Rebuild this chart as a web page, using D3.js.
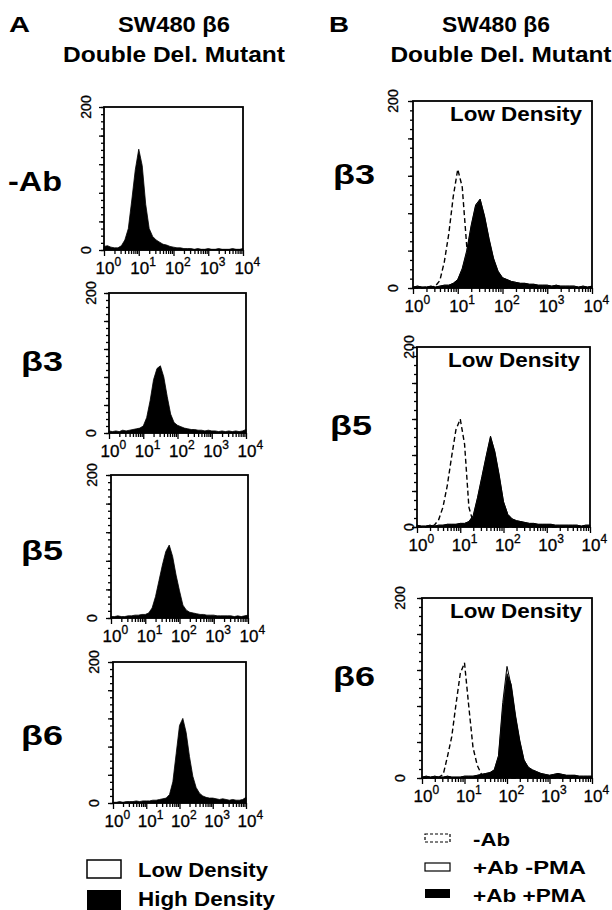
<!DOCTYPE html>
<html lang="en">
<head>
<meta charset="utf-8">
<title>SW480 b6 Double Del. Mutant histograms</title>
<script src="https://cdn.jsdelivr.net/npm/d3@7"></script>
<style>
  body { margin: 0; background: #fff; }
  svg { display: block; }
</style>
</head>
<body>
<script>

// channel positions, log10 of fluorescence (10^0 .. 10^4)
var logBins = [0.0, 0.1, 0.2, 0.3, 0.4, 0.5, 0.6, 0.7, 0.8, 0.9,
               1.0, 1.1, 1.2, 1.3, 1.4, 1.5, 1.6, 1.7, 1.8, 1.9,
               2.0, 2.1, 2.2, 2.3, 2.4, 2.5, 2.6, 2.7, 2.8, 2.9,
               3.0, 3.1, 3.2, 3.3, 3.4, 3.5, 3.6, 3.7, 3.8, 3.9, 4.0];

var decadeExponents = ["0", "1", "2", "3", "4"];
var countLabels = ["0", "200"];

// panel A (high density, filled)
var aNoAb  = [5, 6, 4, 3, 3, 6, 14, 30, 70, 112, 141, 118, 64, 30, 19, 14, 11, 8, 7, 5,
              4, 3, 3, 2, 2, 2, 1, 2, 1, 1, 2, 1, 1, 2, 1, 1, 1, 2, 1, 1, 2];
var aBeta3 = [3, 2, 3, 2, 4, 3, 4, 5, 6, 7, 10, 22, 46, 76, 92, 96, 80, 52, 27, 15,
              11, 9, 7, 6, 5, 5, 4, 4, 3, 4, 3, 3, 2, 3, 2, 3, 2, 3, 2, 3, 5];
var aBeta5 = [2, 2, 3, 2, 2, 3, 3, 4, 4, 5, 5, 7, 14, 30, 52, 74, 93, 102, 86, 60,
              38, 18, 11, 8, 7, 6, 5, 5, 4, 4, 4, 3, 3, 3, 3, 3, 2, 3, 2, 3, 4];
var aBeta6 = [1, 1, 2, 1, 2, 2, 2, 3, 2, 3, 3, 3, 4, 4, 5, 6, 7, 12, 30, 70,
              110, 120, 100, 66, 38, 22, 14, 10, 8, 7, 7, 6, 5, 6, 5, 4, 5, 4, 4, 5, 8];

// panel B (low density): -Ab, +Ab -PMA, +Ab +PMA
var bBeta3NoAb  = [0, 0, 0, 1, 1, 2, 8, 28, 58, 98, 127, 108, 45, 12, 3, 1, 0, 0, 0, 0,
                   0, 0, 0, 0, 0, 0, 0, 0, 0, 0, 0, 0, 0, 0, 0, 0, 0, 0, 0, 0, 0];
var bBeta3NoPma = [1, 2, 1, 1, 2, 1, 2, 3, 3, 5, 9, 21, 40, 67, 89, 95, 76, 52, 31, 18,
                   11, 9, 7, 6, 5, 5, 4, 4, 3, 3, 3, 2, 3, 2, 2, 2, 2, 1, 2, 1, 2];
var bBeta3Pma   = [1, 2, 1, 1, 2, 1, 2, 3, 3, 5, 9, 20, 38, 66, 88, 95, 77, 53, 32, 18,
                   11, 9, 7, 6, 5, 5, 4, 4, 3, 3, 3, 2, 3, 2, 2, 2, 2, 1, 2, 1, 2];

var bBeta5NoAb  = [0, 0, 0, 1, 2, 8, 22, 46, 78, 108, 120, 92, 22, 5, 2, 1, 0, 0, 0, 0,
                   0, 0, 0, 0, 0, 0, 0, 0, 0, 0, 0, 0, 0, 0, 0, 0, 0, 0, 0, 0, 0];
var bBeta5NoPma = [2, 1, 1, 2, 1, 2, 2, 3, 3, 3, 4, 4, 6, 13, 33, 56, 79, 101, 83, 57,
                   28, 14, 9, 7, 6, 5, 4, 4, 3, 3, 3, 3, 2, 2, 2, 2, 2, 2, 1, 2, 2];
var bBeta5Pma   = [2, 1, 1, 2, 1, 2, 2, 3, 3, 3, 4, 4, 6, 12, 32, 55, 78, 100, 84, 58,
                   28, 14, 9, 7, 6, 5, 4, 4, 3, 3, 3, 3, 2, 2, 2, 2, 2, 2, 1, 2, 2];

var bBeta6NoAb  = [0, 0, 0, 0, 1, 4, 24, 46, 82, 116, 128, 80, 34, 14, 4, 1, 0, 0, 0, 0,
                   0, 0, 0, 0, 0, 0, 0, 0, 0, 0, 0, 0, 0, 0, 0, 0, 0, 0, 0, 0, 0];
var bBeta6NoPma = [1, 2, 1, 2, 1, 1, 2, 1, 1, 1, 2, 2, 2, 3, 4, 5, 6, 9, 25, 84,
                   124, 102, 68, 41, 20, 12, 9, 7, 5, 4, 3, 4, 5, 4, 3, 3, 3, 2, 2, 2, 2];
var bBeta6Pma   = [1, 2, 1, 2, 1, 1, 2, 1, 1, 1, 2, 2, 2, 3, 4, 5, 6, 9, 24, 78,
                   116, 104, 70, 42, 20, 12, 9, 7, 5, 4, 3, 4, 5, 4, 3, 3, 3, 2, 2, 2, 2];

var rowLabelsA = ["-Ab", "\u03b23", "\u03b25", "\u03b26"];
var rowLabelsB = ["\u03b23", "\u03b25", "\u03b26"];

var w = 612;
var h = 910;
var font = "'Liberation Sans', Arial, Helvetica, sans-serif";

var svg = d3.select("body")
            .append("svg")
            .attr("width", w)
            .attr("height", h);

svg.append("rect").attr("width", w).attr("height", h).attr("fill", "#fff");

// frame boxes of each small histogram (pixels)
var plots = [
  { x0: 104, x1: 243, y0: 107, y1: 250, fill: aNoAb,  label: rowLabelsA[0], lx: 8,   ly: 191, lw: 54, yoff: 18 },
  { x0: 109, x1: 246, y0: 293, y1: 433, fill: aBeta3, label: rowLabelsA[1], lx: 21,  ly: 371, lw: 42, yoff: 18 },
  { x0: 111, x1: 248, y0: 475, y1: 618, fill: aBeta5, label: rowLabelsA[2], lx: 21,  ly: 560, lw: 42, yoff: 19 },
  { x0: 113, x1: 246, y0: 662, y1: 803, fill: aBeta6, label: rowLabelsA[3], lx: 21,  ly: 745, lw: 42, yoff: 19 },
  { x0: 413, x1: 592, y0: 101, y1: 288, fill: bBeta3Pma, outline: bBeta3NoPma, dashed: bBeta3NoAb,
    label: rowLabelsB[0], lx: 333, ly: 184, lw: 42, yoff: 20, inner: "Low Density" },
  { x0: 417, x1: 590, y0: 347, y1: 527, fill: bBeta5Pma, outline: bBeta5NoPma, dashed: bBeta5NoAb,
    label: rowLabelsB[1], lx: 330, ly: 435, lw: 42, yoff: 8, inner: "Low Density" },
  { x0: 422, x1: 592, y0: 598, y1: 778, fill: bBeta6Pma, outline: bBeta6NoPma, dashed: bBeta6NoAb,
    label: rowLabelsB[2], lx: 333, ly: 686, lw: 42, yoff: 22, inner: "Low Density" }
];

var minorX = [];
[1, 10, 100, 1000].forEach(function(base) {
  for (var k = 2; k <= 9; k++) minorX.push(base * k);
});
var majorX = [1, 10, 100, 1000, 10000];
var minorY = d3.range(0, 201, 10);
var majorY = [0, 40, 80, 120, 160, 200];

function drawPlot(p) {
  var g = svg.append("g");

  var xScale = d3.scaleLog().domain([1, 10000]).range([p.x0, p.x1]);
  var yScale = d3.scaleLinear().domain([0, 200]).range([p.y1, p.y0]);

  var area = d3.area()
               .x(function(d, i) { return xScale(Math.pow(10, logBins[i])); })
               .y0(yScale(0))
               .y1(function(d) { return yScale(d); });

  var line = d3.line()
               .x(function(d, i) { return xScale(Math.pow(10, logBins[i])); })
               .y(function(d) { return yScale(d); });

  if (p.outline) {
    g.append("path")
     .attr("d", line(p.outline))
     .attr("fill", "none")
     .attr("stroke", "#000")
     .attr("stroke-width", 1);
  }

  g.append("path")
   .attr("d", area(p.fill))
   .attr("fill", "#000")
   .attr("stroke", "#000")
   .attr("stroke-width", 0.8);

  if (p.dashed) {
    g.append("path")
     .attr("d", line(p.dashed))
     .attr("fill", "none")
     .attr("stroke", "#000")
     .attr("stroke-width", 1.4)
     .attr("stroke-dasharray", "5,3");
  }

  // axes
  var xMinor = g.append("g")
                .attr("transform", "translate(0," + p.y1 + ")")
                .call(d3.axisBottom(xScale).tickValues(minorX).tickSize(4).tickFormat(""));
  var xMajor = g.append("g")
                .attr("transform", "translate(0," + p.y1 + ")")
                .call(d3.axisBottom(xScale).tickValues(majorX).tickSize(6));
  var yMinor = g.append("g")
                .attr("transform", "translate(" + p.x0 + ",0)")
                .call(d3.axisLeft(yScale).tickValues(minorY).tickSize(3).tickFormat(""));
  var yMajor = g.append("g")
                .attr("transform", "translate(" + p.x0 + ",0)")
                .call(d3.axisLeft(yScale).tickValues(majorY).tickSize(5).tickFormat(""));

  [xMinor, xMajor, yMinor, yMajor].forEach(function(a) {
    a.select(".domain").remove();
    a.selectAll(".tick line").attr("stroke", "#000").attr("stroke-width", 1.3);
  });

  xMajor.selectAll(".tick text")
        .each(function(d, i) {
          var t = d3.select(this);
          t.text(null)
           .attr("y", 24)
           .attr("dy", 0)
           .attr("x", -9)
           .attr("text-anchor", "start")
           .attr("font-family", font)
           .attr("font-size", 17)
           .attr("fill", "#000")
           .attr("stroke", "#000")
           .attr("stroke-width", 0.3);
          t.append("tspan").text("10");
          t.append("tspan")
           .attr("dy", -8)
           .attr("font-size", 12)
           .text(decadeExponents[i]);
        });

  // count labels, rotated
  [0, 200].forEach(function(v, i) {
    g.append("text")
     .attr("transform", "translate(" + (p.x0 - p.yoff + 5) + "," + yScale(v) + ") rotate(-90)")
     .attr("text-anchor", "middle")
     .attr("font-family", font)
     .attr("font-size", 14)
     .attr("stroke", "#000")
     .attr("stroke-width", 0.3)
     .text(countLabels[i]);
  });

  g.append("rect")
   .attr("x", p.x0)
   .attr("y", p.y0)
   .attr("width", p.x1 - p.x0)
   .attr("height", p.y1 - p.y0)
   .attr("fill", "none")
   .attr("stroke", "#000")
   .attr("stroke-width", 1.8);

  if (p.inner) {
    g.append("text")
     .attr("x", p.x1 - 10 - 132)
     .attr("y", p.y0 + 20)
     .attr("font-family", font)
     .attr("font-weight", "bold")
     .attr("font-size", 21)
     .attr("textLength", 132)
     .attr("lengthAdjust", "spacingAndGlyphs")
     .text(p.inner);
  }

  svg.append("text")
     .attr("x", p.lx)
     .attr("y", p.ly)
     .attr("font-family", font)
     .attr("font-weight", "bold")
     .attr("font-size", 27)
     .attr("textLength", p.lw)
     .attr("lengthAdjust", "spacingAndGlyphs")
     .text(p.label);
}

plots.forEach(drawPlot);

// headings
function boldText(x, y, size, len, str, anchor) {
  return svg.append("text")
            .attr("x", x)
            .attr("y", y)
            .attr("text-anchor", anchor || "start")
            .attr("font-family", font)
            .attr("font-weight", "bold")
            .attr("font-size", size)
            .attr("textLength", len)
            .attr("lengthAdjust", "spacingAndGlyphs")
            .text(str);
}

boldText(9, 32, 22, 21, "A");
boldText(329, 32, 22, 20, "B");
boldText(174, 32, 22, 112, "SW480 \u03b26", "middle");
boldText(174, 62, 22, 222, "Double Del. Mutant", "middle");
boldText(496, 32, 22, 108, "SW480 \u03b26", "middle");
boldText(501, 62, 22, 221, "Double Del. Mutant", "middle");

// legend A
svg.append("rect").attr("x", 87).attr("y", 860).attr("width", 34).attr("height", 18)
   .attr("fill", "#fff").attr("stroke", "#000").attr("stroke-width", 1.5);
svg.append("rect").attr("x", 87).attr("y", 890).attr("width", 34).attr("height", 20)
   .attr("fill", "#000");
boldText(138, 877, 21, 130, "Low Density");
boldText(138, 906, 21, 137, "High Density");

// legend B
svg.append("rect").attr("x", 425).attr("y", 834).attr("width", 25).attr("height", 8)
   .attr("fill", "#fff").attr("stroke", "#000").attr("stroke-width", 1.2)
   .attr("stroke-dasharray", "3,2");
svg.append("rect").attr("x", 425).attr("y", 863).attr("width", 25).attr("height", 8)
   .attr("fill", "#fff").attr("stroke", "#000").attr("stroke-width", 1.2);
svg.append("rect").attr("x", 425).attr("y", 889).attr("width", 25).attr("height", 9)
   .attr("fill", "#000");
boldText(473, 846, 18, 37, "-Ab");
boldText(473, 874, 18, 113, "+Ab -PMA");
boldText(473, 902, 18, 113, "+Ab +PMA");

</script>
</body>
</html>
